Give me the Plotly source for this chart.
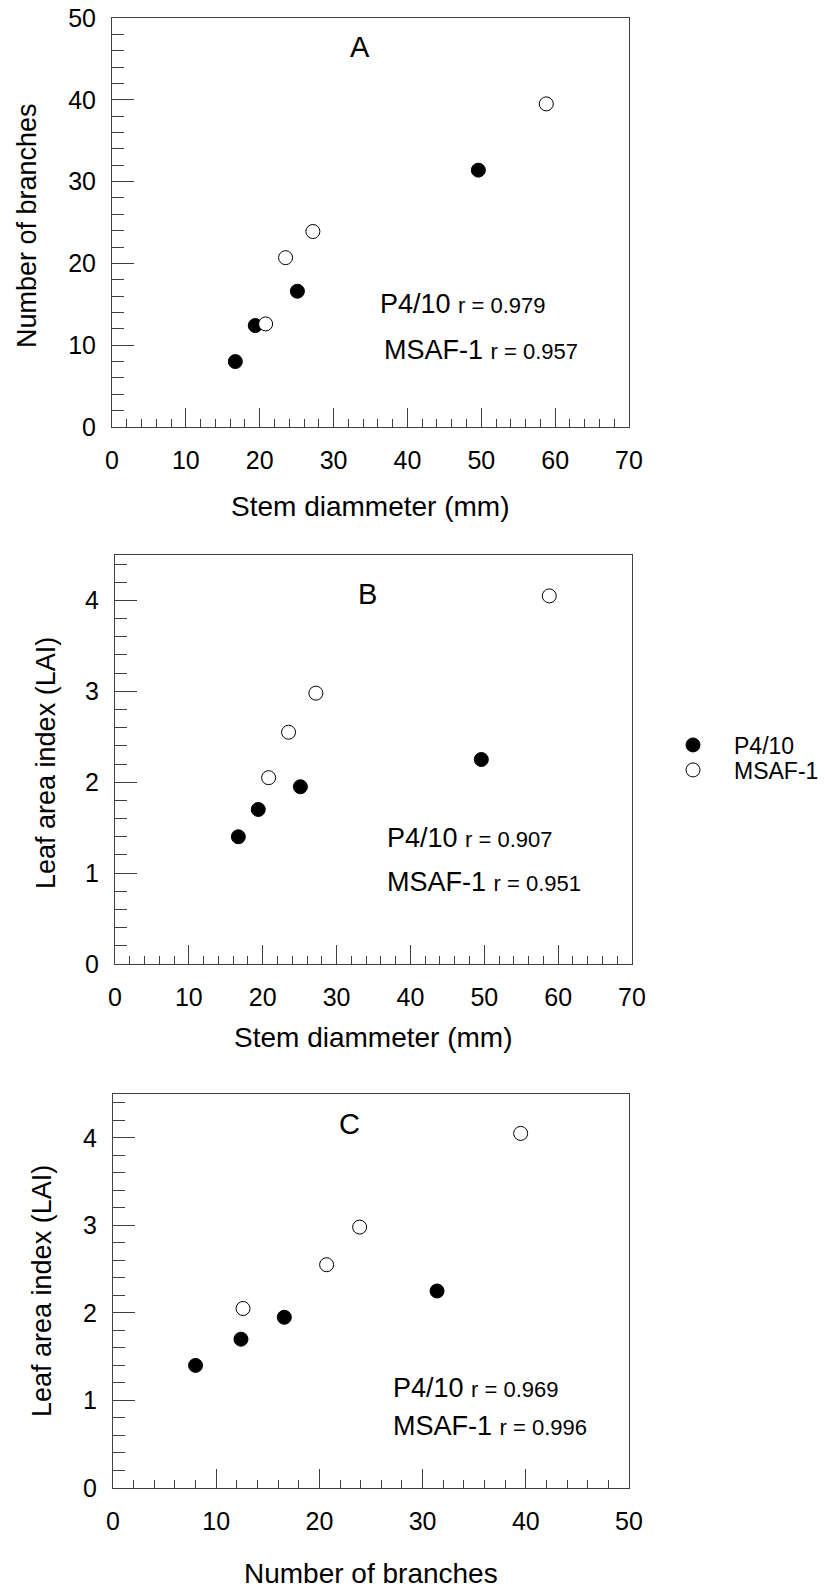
import plotly.graph_objects as go

# ---- data ----
p4_stem = [16.7, 19.4, 25.1, 49.6]
p4_branches = [8.0, 12.4, 16.6, 31.4]
p4_lai = [1.40, 1.70, 1.95, 2.25]

msaf_stem = [20.8, 23.5, 27.2, 58.8]
msaf_branches = [12.6, 20.7, 23.9, 39.5]
msaf_lai = [2.05, 2.55, 2.98, 4.05]

panel_letters = ["A", "B", "C"]
p4_r = ["0.979", "0.907", "0.969"]
msaf_r = ["0.957", "0.951", "0.996"]

W, H = 825, 1593
FONT = "Liberation Sans, Arial, sans-serif"
AXC = "#404040"

def px_x(px):
    return px / W

def px_y(py):
    return (H - py) / H

fig = go.Figure()

# panel geometry in pixels: (left, right, top, bottom)
panels = [
    (112, 629, 18, 427),
    (115, 632, 555, 964),
    (113, 629, 1094, 1488),
]

pairs = [
    (p4_stem, p4_branches, msaf_stem, msaf_branches),
    (p4_stem, p4_lai, msaf_stem, msaf_lai),
    (p4_branches, p4_lai, msaf_branches, msaf_lai),
]

for i, (px4, py4, pxm, pym) in enumerate(pairs):
    xa = "x" if i == 0 else f"x{i+1}"
    ya = "y" if i == 0 else f"y{i+1}"
    fig.add_trace(go.Scatter(
        x=px4, y=py4, mode="markers", name="P4/10", xaxis=xa, yaxis=ya,
        marker=dict(size=14, color="black", line=dict(color="black", width=1)),
        showlegend=(i == 1), legend="legend"))
    fig.add_trace(go.Scatter(
        x=pxm, y=pym, mode="markers", name="MSAF-1", xaxis=xa, yaxis=ya,
        marker=dict(size=14, color="white", line=dict(color="black", width=1)),
        showlegend=(i == 1), legend="legend2"))

x_ranges = [[0, 70], [0, 70], [0, 50]]
y_ranges = [[0, 50], [0, 4.5], [0, 4.5]]
y_dticks = [10, 1, 1]
y_minor = [2, 0.2, 0.2]

leg_common = dict(xanchor="left", yanchor="middle", font=dict(size=23, family=FONT, color="black"),
                  itemwidth=72, bgcolor="rgba(0,0,0,0)", borderwidth=0)

layout = dict(
    width=W, height=H,
    margin=dict(l=0, r=0, t=0, b=0, pad=0, autoexpand=False),
    paper_bgcolor="white", plot_bgcolor="white",
    font=dict(family=FONT, size=25, color="black"),
    template="none",
    showlegend=True,
    legend=dict(x=px_x(652), y=px_y(745), **leg_common),
    legend2=dict(x=px_x(652), y=px_y(770), **leg_common),
)

for i, (l, r, t, b) in enumerate(panels):
    xk = "xaxis" if i == 0 else f"xaxis{i+1}"
    yk = "yaxis" if i == 0 else f"yaxis{i+1}"
    yanchor = "y" if i == 0 else f"y{i+1}"
    xanchor = "x" if i == 0 else f"x{i+1}"
    layout[xk] = dict(
        domain=[px_x(l), px_x(r)], anchor=yanchor, range=x_ranges[i],
        showgrid=False, zeroline=False, showline=True, linecolor=AXC, linewidth=1,
        mirror=True, ticks="inside", ticklen=19, tickcolor=AXC, tickwidth=1,
        dtick=10, tick0=0, automargin=False, ticklabelstandoff=11,
        tickfont=dict(size=25, family=FONT, color="black"),
        minor=dict(ticks="inside", ticklen=8, dtick=2, tick0=0, tickcolor=AXC, showgrid=False),
    )
    layout[yk] = dict(
        domain=[px_y(b), px_y(t)], anchor=xanchor, range=y_ranges[i],
        showgrid=False, zeroline=False, showline=True, linecolor=AXC, linewidth=1,
        mirror=True, ticks="inside", ticklen=22, tickcolor=AXC, tickwidth=1,
        dtick=y_dticks[i], tick0=0, automargin=False, ticklabelstandoff=10,
        tickfont=dict(size=25, family=FONT, color="black"),
        minor=dict(ticks="inside", ticklen=12, dtick=y_minor[i], tick0=0, tickcolor=AXC, showgrid=False),
    )

fig.update_layout(**layout)

annotations = []

# panel letters
letter_pos = [(360, 47), (367, 594), (349, 1124)]
for (x, y), s in zip(letter_pos, panel_letters):
    annotations.append(dict(x=px_x(x), y=px_y(y), xref="paper", yref="paper",
                            text=s, showarrow=False, xanchor="center", yanchor="middle",
                            font=dict(size=29, family=FONT)))

# correlation texts
stat_pos = [((378, 304), (382, 350)), ((385, 838), (385, 882)), ((391, 1388), (391, 1426))]
for (p1, p2), r1, r2 in zip(stat_pos, p4_r, msaf_r):
    annotations.append(dict(x=px_x(p1[0]), y=px_y(p1[1]), xref="paper", yref="paper",
                            text=f"P4/10 <span style='font-size:22px'>r = {r1}</span>",
                            showarrow=False, xanchor="left", yanchor="middle",
                            font=dict(size=27, family=FONT)))
    annotations.append(dict(x=px_x(p2[0]), y=px_y(p2[1]), xref="paper", yref="paper",
                            text=f"MSAF-1 <span style='font-size:22px'>r = {r2}</span>",
                            showarrow=False, xanchor="left", yanchor="middle",
                            font=dict(size=27, family=FONT)))

# axis titles
x_titles = [("Stem diammeter (mm)", 370, 506), ("Stem diammeter (mm)", 373, 1038),
            ("Number of branches", 371, 1573)]
for s, x, y in x_titles:
    annotations.append(dict(x=px_x(x), y=px_y(y), xref="paper", yref="paper", text=s,
                            showarrow=False, xanchor="center", yanchor="middle",
                            font=dict(size=28, family=FONT)))
y_titles = [("Number of branches", 27, 226), ("Leaf area index (LAI)", 46, 763),
            ("Leaf area index (LAI)", 42, 1291)]
for s, x, y in y_titles:
    annotations.append(dict(x=px_x(x), y=px_y(y), xref="paper", yref="paper", text=s,
                            showarrow=False, xanchor="center", yanchor="middle", textangle=-90,
                            font=dict(size=27, family=FONT)))

fig.update_layout(annotations=annotations)

fig.write_html("out.html")
